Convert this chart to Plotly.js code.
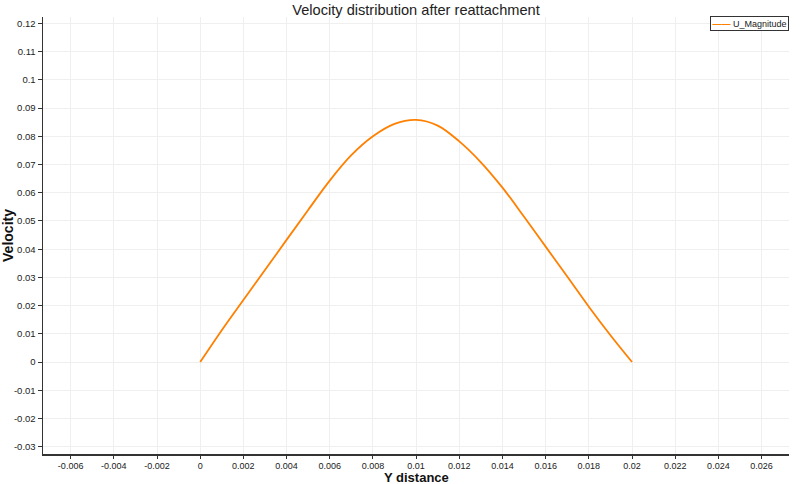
<!DOCTYPE html>
<html>
<head>
<meta charset="utf-8">
<script src="https://cdn.plot.ly/plotly-3.0.1.min.js"></script>
<style>html,body{margin:0;padding:0;background:#fff;}#chart{width:800px;height:484px;}</style>
</head>
<body>
<div id="chart"></div>
<script>
const yDistance = [0, 0.001, 0.002, 0.003, 0.004, 0.005, 0.006, 0.007, 0.008, 0.009, 0.010,
                   0.011, 0.012, 0.013, 0.014, 0.015, 0.016, 0.017, 0.018, 0.019, 0.020];
const uMagnitude = [0, 0.0113, 0.0220, 0.0326, 0.0433, 0.0539, 0.0643, 0.0733, 0.0800, 0.0844, 0.0858,
                    0.0838, 0.0782, 0.0708, 0.0618, 0.0515, 0.0409, 0.0303, 0.0196, 0.0095, 0];
const seriesName = 'U_Magnitude';
const xTitle = 'Y distance';
const yTitle = 'Velocity';
const xTicks = [-0.006, -0.004, -0.002, 0, 0.002, 0.004, 0.006, 0.008, 0.01, 0.012, 0.014, 0.016, 0.018, 0.02, 0.022, 0.024, 0.026];
const xTickLabels = ['-0.006', '-0.004', '-0.002', '0', '0.002', '0.004', '0.006', '0.008', '0.01', '0.012', '0.014', '0.016', '0.018', '0.02', '0.022', '0.024', '0.026'];
const yTicks = [-0.03, -0.02, -0.01, 0, 0.01, 0.02, 0.03, 0.04, 0.05, 0.06, 0.07, 0.08, 0.09, 0.1, 0.11, 0.12];
const yTickLabels = ['-0.03', '-0.02', '-0.01', '0', '0.01', '0.02', '0.03', '0.04', '0.05', '0.06', '0.07', '0.08', '0.09', '0.1', '0.11', '0.12'];

const lineColor = '#ff8000';
const tickFont = {family: '"Liberation Sans", sans-serif', size: 9.5, color: '#222'};

const trace = {
  x: yDistance, y: uMagnitude, type: 'scatter', mode: 'lines', name: seriesName,
  line: {color: lineColor, width: 1.8, shape: 'spline', smoothing: 1}
};

const layout = {
  width: 800, height: 484,
  margin: {l: 43, r: 11, t: 17, b: 30},
  paper_bgcolor: '#fff', plot_bgcolor: '#fff',
  showlegend: false,
  title: {text: 'Velocity distribution after reattachment', x: 0.5, xref: 'paper', y: 0.979, yref: 'container', yanchor: 'middle',
          font: {family: '"Liberation Sans", sans-serif', size: 14.6, color: '#222'}},
  xaxis: {
    range: [-0.00728, 0.02727], tickvals: xTicks, ticktext: xTickLabels,
    showgrid: true, gridcolor: '#efefef', gridwidth: 1, zeroline: false,
    showline: true, linecolor: '#333', linewidth: 1.5,
    ticks: 'outside', ticklen: 3, tickcolor: '#333', tickfont: {family: tickFont.family, size: 9, color: tickFont.color}
  },
  yaxis: {
    range: [-0.0326, 0.1223], tickvals: yTicks, ticktext: yTickLabels,
    showgrid: true, gridcolor: '#efefef', gridwidth: 1, zeroline: false,
    showline: true, linecolor: '#333', linewidth: 1.5,
    ticks: 'outside', ticklen: 4, tickcolor: '#333', tickfont: tickFont,
    title: {text: yTitle, standoff: 4, font: {family: '"Liberation Sans", sans-serif', size: 14, color: '#111', weight: 'bold'}}
  },
  annotations: [{
    xref: 'paper', yref: 'paper', x: 0.5, xanchor: 'center', y: -0.0545, yanchor: 'middle',
    text: '<b>' + xTitle + '</b>', showarrow: false,
    font: {family: '"Liberation Sans", sans-serif', size: 13, color: '#111'}
  }, {
    xref: 'paper', yref: 'paper', x: 1.0, xanchor: 'right', y: 1.003, yanchor: 'top',
    text: '<span style="color:' + lineColor + '"><b>&#8212;&#8212;</b></span> ' + seriesName,
    showarrow: false, align: 'left',
    font: {family: '"Liberation Sans", sans-serif', size: 9, color: '#222'},
    bgcolor: '#fff', bordercolor: '#333', borderwidth: 1, borderpad: 1.5
  }]
};

Plotly.newPlot('chart', [trace], layout, {staticPlot: true, displayModeBar: false});
</script>
</body>
</html>
